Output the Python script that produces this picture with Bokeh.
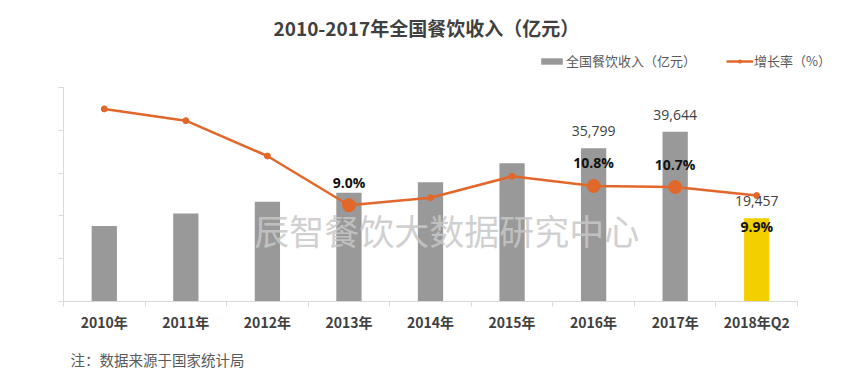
from bokeh.plotting import figure
from bokeh.models import (ColumnDataSource, Range1d, FixedTicker, Legend,
                          LegendItem, Label, Title)
from bokeh.embed import file_html
from bokeh.resources import INLINE

# ---- data ----
categories = ["2010年", "2011年", "2012年", "2013年", "2014年", "2015年", "2016年", "2017年", "2018年Q2"]
revenue = [17648, 20543, 23283, 25392, 27860, 32310, 35799, 39644, 19457]   # 亿元
growth = [18.0, 16.9, 13.6, 9.0, 9.7, 11.7, 10.8, 10.7, 9.9]               # %
value_label_cats = ["2016年", "2017年", "2018年Q2"]
pct_label_above_cats = ["2013年", "2016年", "2017年"]
pct_label_below_cats = ["2018年Q2"]
big_dot_cats = ["2013年", "2016年", "2017年"]
rev_ticks = [0, 10000, 20000, 30000, 40000, 50000]
pct_max = 20

TITLE = "2010-2017年全国餐饮收入（亿元）"
FOOT = "注：数据来源于国家统计局"
WATERMARK = "辰智餐饮大数据研究中心"
BAR_NAME = "全国餐饮收入（亿元）"
LINE_NAME = "增长率（%）"

GRAY = "#999999"
YELLOW = "#F3CF00"
ORANGE = "#E2672A"
AXIS = "#d9d9d9"
CJK = "Noto Sans CJK SC"
NUM = "Open Sans"

n = len(categories)
xs = [i + 0.5 for i in range(n)]
idx = {c: i for i, c in enumerate(categories)}

def sub(cats):
    ii = [idx[c] for c in cats]
    return dict(x=[xs[i] for i in ii], rev=[revenue[i] for i in ii],
                g=[growth[i] for i in ii],
                rev_txt=[f"{revenue[i]:,}" for i in ii],
                g_txt=[f"{growth[i]:.1f}%" for i in ii])

# layout geometry (pixels): axes area 63..797 x 87..301, frame extended for legend room
FRAME_L, AXIS_R, FRAME_R = 63, 797, 840
FRAME_T, AXIS_T, FRAME_B = 48, 87, 301
x_ext = (FRAME_R - FRAME_L) / (AXIS_R - FRAME_L)
y_ext = (FRAME_B - FRAME_T) / (FRAME_B - AXIS_T)

p = figure(width=850, height=381, output_backend="svg", toolbar_location=None,
           x_range=Range1d(0, n * x_ext), y_range=Range1d(0, rev_ticks[-1] * y_ext),
           min_border_left=FRAME_L, min_border_right=850 - FRAME_R,
           min_border_top=FRAME_T, min_border_bottom=381 - FRAME_B,
           outline_line_color=None, background_fill_color="white", border_fill_color="white")
p.extra_y_ranges = {"pct": Range1d(0, pct_max * y_ext)}
p.xgrid.visible = False
p.ygrid.visible = False

# axes
xa = p.xaxis[0]
xa.bounds = (0, n)
xa.ticker = FixedTicker(ticks=xs, minor_ticks=list(range(n + 1)))
xa.major_label_overrides = {x: c for x, c in zip(xs, categories)}
xa.major_tick_line_color = None
xa.major_tick_out = 0
xa.minor_tick_out = 5
xa.minor_tick_in = 0
xa.minor_tick_line_color = AXIS
xa.axis_line_color = AXIS
xa.major_label_text_font = CJK
xa.major_label_text_font_size = "14px"
xa.major_label_text_font_style = "bold"
xa.major_label_text_color = "#404040"
xa.major_label_standoff = 5

ya = p.yaxis[0]
ya.bounds = (rev_ticks[0], rev_ticks[-1])
ya.ticker = FixedTicker(ticks=rev_ticks)
ya.major_label_text_color = None
ya.major_label_text_font_size = "1px"
ya.major_label_standoff = 0
ya.major_tick_out = 5
ya.major_tick_in = 0
ya.major_tick_line_color = AXIS
ya.minor_tick_line_color = None
ya.axis_line_color = AXIS

# bars
gray_src = ColumnDataSource(dict(x=xs[:-1], top=revenue[:-1]))
yel_src = ColumnDataSource(dict(x=xs[-1:], top=revenue[-1:]))
bars = p.vbar(x="x", top="top", width=0.31, source=gray_src, fill_color=GRAY, line_color=None)
p.vbar(x="x", top="top", width=0.31, source=yel_src, fill_color=YELLOW, line_color=None)

# watermark
p.add_layout(Label(x=4.7, y=16800, text=WATERMARK, text_font=CJK, text_font_size="35px",
                   text_color="#c8c8c8", text_alpha=0.85, text_align="center",
                   text_baseline="middle"))

# line
line_src = ColumnDataSource(dict(x=xs, g=growth))
ln = p.line(x="x", y="g", source=line_src, y_range_name="pct", line_color=ORANGE, line_width=2.5)
dots = p.scatter(x="x", y="g", source=line_src, y_range_name="pct", size=6,
                 fill_color=ORANGE, line_color=ORANGE)
p.scatter(x="x", y="g", source=ColumnDataSource(sub(big_dot_cats)), y_range_name="pct",
          size=13, fill_color=ORANGE, line_color=ORANGE)

# value labels
p.text(x="x", y="rev", text="rev_txt", source=ColumnDataSource(sub(value_label_cats)),
       text_font={"value": NUM}, text_font_size="14px", text_color="#404040",
       text_align="center", text_baseline="middle", y_offset=-17)
p.text(x="x", y="g", text="g_txt", source=ColumnDataSource(sub(pct_label_above_cats)),
       y_range_name="pct", text_font={"value": NUM}, text_font_size="14px",
       text_font_style="bold", text_color="#111111",
       text_align="center", text_baseline="middle", y_offset=-23)
p.text(x="x", y="g", text="g_txt", source=ColumnDataSource(sub(pct_label_below_cats)),
       y_range_name="pct", text_font={"value": NUM}, text_font_size="14px",
       text_font_style="bold", text_color="#111111",
       text_align="center", text_baseline="middle", y_offset=31)

# legend
legend = Legend(items=[LegendItem(label=BAR_NAME, renderers=[bars]),
                       LegendItem(label=LINE_NAME, renderers=[ln, dots])],
                orientation="horizontal", location=(475, 231),
                glyph_width=27, glyph_height=8, label_height=8, label_standoff=1,
                spacing=30, padding=0, margin=0,
                border_line_color=None, background_fill_alpha=0,
                label_text_font=CJK, label_text_font_size="13px", label_text_color="#595959")
p.add_layout(legend, "center")

# title & footnote
p.title = Title(text=TITLE, align="left", text_font=CJK, text_font_size="19px",
                text_font_style="bold", text_color="#404040", standoff=16, offset=210)
p.add_layout(Title(text=FOOT, align="left", text_font=CJK, text_font_size="14.5px",
                   text_font_style="normal", text_color="#595959", offset=7, standoff=24),
             "below")

open("out.html", "w").write(file_html(p, INLINE))
